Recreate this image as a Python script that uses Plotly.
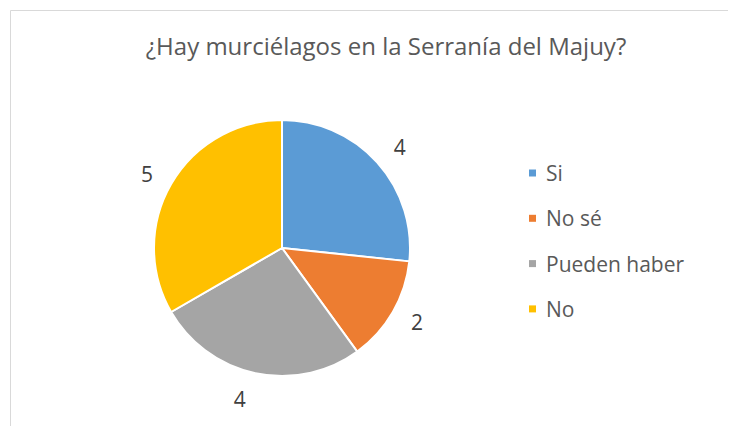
import plotly.graph_objects as go

labels = ["Si", "No sé", "Pueden haber", "No"]
values = [4, 2, 4, 5]
colors = ["#5B9BD5", "#ED7D31", "#A5A5A5", "#FFC000"]
title = "¿Hay murciélagos en la Serranía del Majuy?"

W, H = 736, 426
OFF = 8  # page body margin offset
FONT = "Open Sans, Noto Sans, sans-serif"
CX, CY, R, RL = 282, 248, 128, 141  # pie centre/radius and label ring radius (px)


def px(x):
    return (x - OFF) / W


def py(y):
    return 1 - (y - OFF) / H


fig = go.Figure()
# transparent ring only used to place the value labels a bit further out
fig.add_trace(go.Pie(
    labels=labels, values=values, sort=False, direction="clockwise", rotation=0,
    marker=dict(colors=["rgba(0,0,0,0)"] * len(values), line=dict(width=0)),
    textinfo="value", textposition="outside",
    textfont=dict(family=FONT, size=21, color="#404040"),
    domain=dict(x=[px(CX - RL), px(CX + RL)], y=[py(CY + RL), py(CY - RL)]),
    showlegend=False, automargin=False, hoverinfo="skip",
))
fig.add_trace(go.Pie(
    labels=labels, values=values, sort=False, direction="clockwise", rotation=0,
    marker=dict(colors=colors, line=dict(color="white", width=2)),
    textinfo="none",
    domain=dict(x=[px(CX - R), px(CX + R)], y=[py(CY + R), py(CY - R)]),
    showlegend=False, automargin=False,
))

shapes = [dict(type="rect", xref="paper", yref="paper",
               x0=px(10.5), x1=1.02, y0=-0.02, y1=py(10.5),
               line=dict(color="#D9D9D9", width=1), fillcolor="rgba(0,0,0,0)")]
annotations = []
for i, (lab, col) in enumerate(zip(labels, colors)):
    yc = 173 + 45.3 * i
    shapes.append(dict(type="rect", xref="paper", yref="paper",
                       x0=px(529), x1=px(536), y0=py(yc + 3.5), y1=py(yc - 3.5),
                       line=dict(width=0), fillcolor=col))
    annotations.append(dict(text=lab, xref="paper", yref="paper", x=px(544), y=py(yc),
                            xanchor="left", yanchor="middle", showarrow=False,
                            font=dict(family=FONT, size=21, color="#595959")))

fig.update_layout(
    width=W, height=H, margin=dict(l=0, r=0, t=0, b=0),
    paper_bgcolor="white", plot_bgcolor="white",
    title=dict(text=title, x=px(386), xanchor="center", y=py(47), yanchor="middle",
               yref="container", font=dict(family=FONT, size=24, color="#595959")),
    shapes=shapes, annotations=annotations,
)

fig.write_html("out.html")
